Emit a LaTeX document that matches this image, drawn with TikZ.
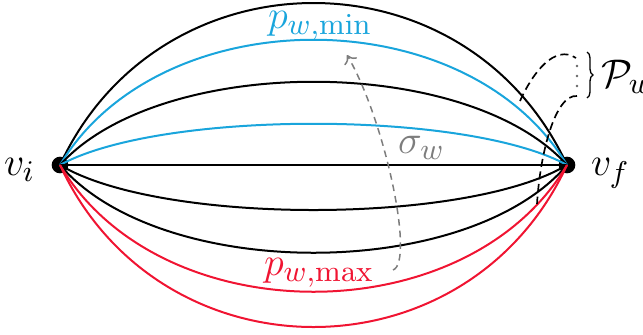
\documentclass[tikz,border=0pt,11pt]{standalone}
\usepackage{amsmath, amssymb}
\usepackage{tikz}
\usetikzlibrary{decorations.pathreplacing, arrows.meta}
\definecolor{pmin}{RGB}{25,165,220}
\definecolor{pmax}{RGB}{240,20,50}
\definecolor{sgray}{RGB}{125,125,125}

\begin{document}
\begin{tikzpicture}[>={To[length=2.4pt, width=4.4pt]}, x=0.3pt, y=0.3pt, line width=0.6pt,
    vertex/.style={circle, fill=black, inner sep=0pt, minimum size=5pt},
    lbl/.style={inner sep=0pt, anchor=base west, font=\fontsize{13pt}{15pt}\selectfont},
    loopdash/.style={dash pattern=on 2.4pt off 1.4pt, line width=0.5pt},
    sigdash/.style={sgray, dash pattern=on 2pt off 1.5pt, line width=0.45pt}]
  \useasboundingbox (0,0) rectangle (643,334);
  % end vertices
  \node[vertex] (vi) at (60,169) {};
  \node[vertex] (vf) at (567,169) {};
  \node[lbl] (vilbl) at (3,159) {$v_i$};
  \node[lbl] (vflbl) at (590,159) {$v_f$};
  % paths above
  \draw (vi.center) .. controls +(100,216) and +(-100,216) .. (vf.center);
  \draw[pmin] (vi.center) .. controls +(100,167) and +(-100,167) .. (vf.center);
  \draw (vi.center) .. controls +(100,111) and +(-100,111) .. (vf.center);
  \draw[pmin] (vi.center) .. controls +(100,55) and +(-100,55) .. (vf.center);
  \draw (vi.center) -- (vf.center);
  % paths below
  \draw (vi.center) .. controls +(100,-60) and +(-100,-60) .. (vf.center);
  \draw (vi.center) .. controls +(100,-117) and +(-100,-117) .. (vf.center);
  \draw[pmax] (vi.center) .. controls +(100,-169) and +(-100,-169) .. (vf.center);
  \draw[pmax] (vi.center) .. controls +(100,-216) and +(-100,-216) .. (vf.center);
  \node[lbl, pmin] (pminlbl) at (267,306) {$p_{w,\min}$};
  \node[lbl, pmax] (pmaxlbl) at (263,59) {$p_{w,\max}$};
  % ordering arrow
  \coordinate (sigstart) at (393,64);
  \coordinate (sigend) at (347,279);
  \draw[sigdash, ->] (sigstart) .. controls (415,72) and (385,214) .. (sigend);
  \node[lbl, sgray] (siglbl) at (397,181) {$\sigma_w$};
  % path set
  \coordinate (loopa) at (520,233);
  \coordinate (loopb) at (576,276);
  \coordinate (loopc) at (577,238);
  \coordinate (loopd) at (537,130);
  \draw[loopdash] (loopa) .. controls (533,262) and (555,290) .. (loopb);
  \draw[loopdash] (loopc) .. controls (555,240) and (540,180) .. (loopd);
  \fill[black!60] (577,268) circle (1.4) (577,258) circle (1.4) (577,248) circle (1.4);
  \draw[line width=0.4pt, decorate, decoration={brace, amplitude=1.8pt}] (587,282) -- (587,236);
  \node[lbl] (pwlbl) at (600,247) {$\mathcal{P}_w$};
\end{tikzpicture}
\end{document}
